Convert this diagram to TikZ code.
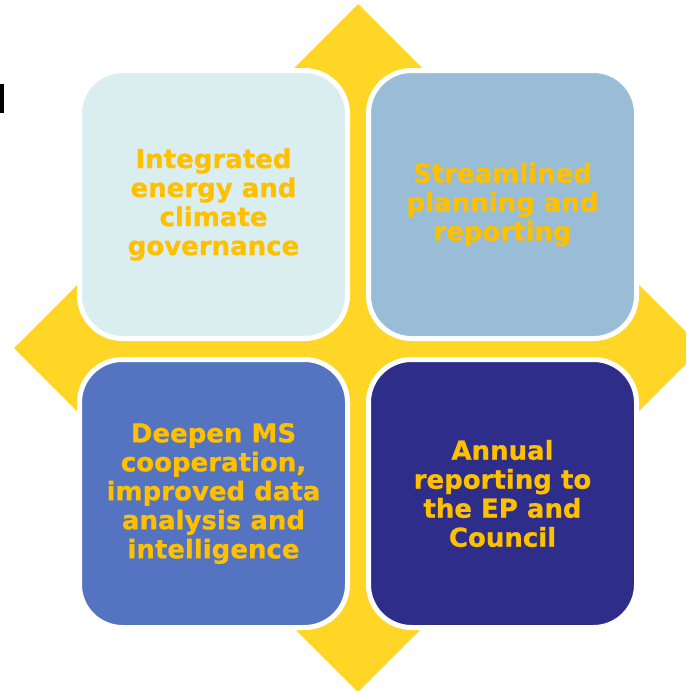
\documentclass[tikz,border=0pt]{standalone}
\usepackage{fontspec}
\newfontfamily\boxfont{DejaVu Sans Bold}[FakeBold=0.7]
\definecolor{arrowyellow}{HTML}{FFD625}
\definecolor{txtyellow}{HTML}{FFC000}
\definecolor{fillA}{HTML}{DAEEF0}
\definecolor{fillB}{HTML}{9ABDD7}
\definecolor{fillC}{HTML}{5474C2}
\definecolor{fillD}{HTML}{2E2E8A}
\begin{document}
\begin{tikzpicture}[x=1pt,y=-1pt,
  quad/.style={rectangle, rounded corners=43pt, draw=white, line width=5pt,
    minimum width=268pt, minimum height=268pt, inner sep=0pt, align=center,
    text=txtyellow, font=\boxfont\fontsize{26}{29}\selectfont}]
\useasboundingbox (0,0) rectangle (686,691);
\clip (0,0) rectangle (686,691);
% yellow diamond (four-way arrow)
\fill[arrowyellow] (358,4) -- (702,348) -- (358,692) -- (14,348) -- cycle;
% clipped black fragment at left edge
\fill[black] (0,84) rectangle (4,113);
% boxes
\node[quad, fill=fillA] (tl) at (213.5,204.5) {Integrated\\energy and\\climate\\governance};
\node[quad, fill=fillB] (tr) at (502.5,204.5) {Streamlined\\planning and\\reporting};
\node[quad, fill=fillC] (bl) at (213.5,493.5) {Deepen MS\\cooperation,\\improved data\\analysis and\\intelligence};
\node[quad, fill=fillD] (br) at (502.5,493.5) {Annual\\reporting to\\the EP and\\Council};
\end{tikzpicture}
\end{document}
